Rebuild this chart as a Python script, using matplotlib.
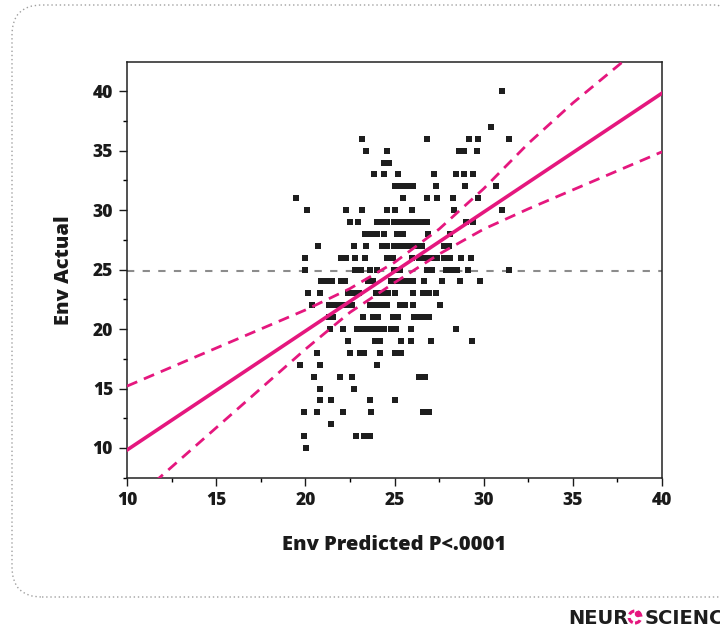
import numpy as np
import matplotlib.pyplot as plt
from matplotlib.patches import FancyBboxPatch, Circle

plt.rcParams['font.family'] = ['Open Sans', 'DejaVu Sans']

# scatter points, one row per actual score
row_actual = [40, 37, 36, 35, 34, 33, 32, 31, 30, 29, 28, 27, 26, 25,
              24, 23, 22, 21, 20, 19, 18, 17, 16, 15, 14, 13, 12, 11, 10]
row_predicted = [
    [31.0],
    [30.4],
    [23.2, 26.8, 29.2, 29.7, 31.4],
    [23.4, 24.6, 28.6, 28.9, 29.6],
    [24.4, 24.7],
    [23.85, 24.4, 25.2, 27.2, 28.45, 28.9, 29.4],
    [25.0, 25.35, 25.7, 26.05, 27.3, 28.95, 30.7],
    [19.5, 25.5, 26.8, 27.4, 28.3, 29.7],
    [20.1, 22.3, 23.2, 24.6, 25.0, 26.0, 28.35, 31.0],
    [22.5, 22.95, 24.0, 24.3, 24.6, 24.95, 25.3, 25.6, 25.9, 26.2, 26.5, 26.8, 29.0, 29.4],
    [23.35, 23.7, 24.0, 24.4, 25.15, 25.5, 26.9, 28.1],
    [20.7, 22.7, 23.4, 24.3, 24.6, 24.95, 25.3, 25.6, 25.95, 26.25, 26.55, 27.8, 28.05],
    [20.0, 22.0, 22.3, 22.8, 23.35, 24.6, 24.9, 26.0, 26.35, 26.7, 27.05, 27.4, 27.75, 28.1, 28.7, 29.3],
    [20.0, 22.8, 23.1, 23.6, 24.0, 24.95, 25.3, 26.8, 27.1, 27.9, 28.2, 28.5, 29.1, 31.4],
    [20.85, 21.2, 21.5, 22.0, 22.25, 23.5, 23.8, 24.8, 25.1, 25.4, 25.75, 26.05, 26.65, 27.65, 28.65, 29.8],
    [20.15, 20.8, 22.4, 22.7, 23.0, 23.95, 24.3, 24.65, 25.0, 26.05, 26.6, 26.95, 27.3],
    [20.4, 21.3, 21.65, 22.0, 22.3, 22.6, 23.6, 23.95, 24.3, 24.6, 25.3, 25.6, 26.05, 27.55],
    [21.3, 21.55, 23.25, 23.8, 24.05, 24.9, 25.2, 26.1, 26.4, 26.7, 26.95],
    [21.4, 22.1, 22.9, 23.2, 23.5, 23.8, 24.1, 24.4, 24.8, 25.1, 25.9, 28.45],
    [22.4, 23.9, 24.2, 25.35, 25.95, 27.05, 29.35],
    [20.65, 22.5, 23.05, 23.3, 24.2, 25.0, 25.35],
    [19.7, 20.8, 24.0],
    [20.5, 21.95, 22.6, 26.35, 26.7],
    [20.8, 22.7],
    [20.8, 21.45, 23.6, 25.0],
    [19.9, 20.65, 22.1, 23.7, 26.6, 26.95],
    [21.45],
    [19.9, 22.85, 23.3, 23.6],
    [20.05],
]

# fitted line and its confidence band
fit_x = [10, 40]
fit_y = [9.83, 39.83]
band_x = [10, 12.5, 15, 17.5, 20, 22.5, 25, 27.5, 30, 32.5, 35, 37.5, 40]
band_upper = [15.2, 16.8, 18.4, 20.0, 21.6, 23.4, 25.6, 28.4, 31.8, 35.6, 39.0, 42.1, 45.2]
band_lower = [5.1, 8.4, 11.7, 15.0, 18.3, 21.4, 23.9, 26.3, 28.4, 30.1, 31.7, 33.3, 34.9]
mean_actual = 24.9

x_ticks = [10, 15, 20, 25, 30, 35, 40]
y_ticks = [10, 15, 20, 25, 30, 35, 40]

env_pred = np.concatenate([np.array(r) for r in row_predicted])
env_act = np.concatenate([np.full(len(r), a) for r, a in zip(row_predicted, row_actual)])

pink = '#e5177e'

fig = plt.figure(figsize=(7.2, 6.28), dpi=100)

# dotted rounded frame around the panel (runs off the right edge)
frame = FancyBboxPatch((0.12, 0.31), 7.35, 5.92,
                       boxstyle='round,pad=0,rounding_size=0.3',
                       transform=fig.dpi_scale_trans, fill=False,
                       edgecolor='#a0a0a0', linestyle=(0, (1, 2)), linewidth=1.0)
fig.patches.append(frame)

ax = fig.add_axes([0.1764, 0.2389, 0.7431, 0.6624])

ax.axhline(mean_actual, color='#8c8c8c', linestyle=(0, (3.5, 4)), linewidth=1.5, zorder=1)
ax.plot(env_pred, env_act, 's', color='#1e1e1e', markersize=4.8, markeredgewidth=0, zorder=2)
ax.plot(fit_x, fit_y, color=pink, linewidth=2.6, zorder=3)
ax.plot(band_x, band_upper, color=pink, linewidth=2.0, linestyle=(0, (4, 2.6)), zorder=3)
ax.plot(band_x, band_lower, color=pink, linewidth=2.0, linestyle=(0, (4, 2.6)), zorder=3)

ax.set_xlim(10, 40)
ax.set_ylim(7.48, 42.45)
ax.set_xticks(x_ticks)
ax.set_yticks(y_ticks)
ax.set_xticks(np.arange(12.5, 40, 5), minor=True)
ax.set_yticks(np.arange(7.5, 42.5, 5), minor=True)
ax.tick_params(which='major', direction='out', length=5.5, width=1.0, pad=4.5,
               labelsize=12.5, colors='#1a1a1a')
ax.tick_params(which='minor', direction='out', length=3.2, width=1.0)
for lab in ax.get_xticklabels() + ax.get_yticklabels():
    lab.set_fontweight('heavy')
for sp in ax.spines.values():
    sp.set_linewidth(1.1)
    sp.set_color('#222222')

ax.set_xlabel('Env Predicted P<.0001', fontsize=14.5, fontweight='heavy', color='#1a1a1a')
ax.set_ylabel('Env Actual', fontsize=14.5, fontweight='heavy', color='#1a1a1a')
ax.xaxis.set_label_coords(0.5, -0.138)
ax.yaxis.set_label_coords(-0.1, 0.5)

# logo in the corner
fig.text(568 / 720, 1 - 624 / 628, 'NEUR', fontsize=14, fontweight='bold',
         family='DejaVu Sans', color='#1e1e1e', ha='left', va='baseline')
ring = Circle((635 / 100, (628 - 617) / 100), 0.06, transform=fig.dpi_scale_trans,
              fill=False, edgecolor=pink, linewidth=2.2, linestyle=(0, (2, 1.2)))
fig.patches.append(ring)
dot = Circle((638 / 100, (628 - 614) / 100), 0.025, transform=fig.dpi_scale_trans,
             color=pink)
fig.patches.append(dot)
fig.text(645 / 720, 1 - 624 / 628, 'SCIENCE', fontsize=14, fontweight='bold',
         family='DejaVu Sans', color='#1e1e1e', ha='left', va='baseline')

fig.savefig('out.png', dpi=100)
